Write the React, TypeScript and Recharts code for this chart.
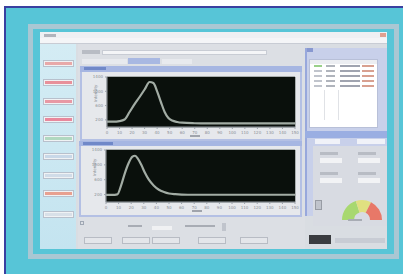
import React from "react";
import {
  LineChart,
  Line,
  XAxis,
  YAxis,
  CartesianGrid,
  PieChart,
  Pie,
  Cell,
} from "recharts";

// upper trace (time, intensity)
const topTime = [0, 5, 10, 14, 18, 22, 26, 30, 34, 37, 40, 43, 46, 49, 52, 56, 60, 70, 80, 100, 120, 150];
const topValue = [150, 150, 165, 210, 420, 640, 840, 1050, 1260, 1230, 1000, 700, 420, 250, 180, 140, 120, 105, 100, 100, 100, 100];

// lower trace
const bottomTime = [0, 5, 9, 12, 15, 18, 21, 23, 25, 28, 31, 34, 38, 42, 46, 50, 55, 60, 70, 90, 120, 150];
const bottomValue = [190, 190, 205, 450, 780, 1050, 1220, 1245, 1180, 1000, 780, 600, 440, 330, 270, 230, 210, 200, 195, 195, 195, 195];

const xTicks = [0, 10, 20, 30, 40, 50, 60, 70, 80, 90, 100, 110, 120, 130, 140, 150];
const yTicks = [0, 200, 400, 600, 800, 1000, 1200, 1400];

// gauge segments
const gaugeParts = [
  { name: "low", value: 40, color: "#a8d870" },
  { name: "mid", value: 25, color: "#e0e080" },
  { name: "high", value: 35, color: "#e87868" },
];

const topData = topTime.map((t, i) => ({ t, v: topValue[i] }));
const bottomData = bottomTime.map((t, i) => ({ t, v: bottomValue[i] }));

const box = (
  left: number,
  top: number,
  width: number,
  height: number,
  style: React.CSSProperties = {}
) => (
  <div
    style={{
      position: "absolute",
      left,
      top,
      width,
      height,
      boxSizing: "border-box",
      ...style,
    }}
  />
);

function Trace({ data, width, height }: { data: any[]; width: number; height: number }) {
  return (
    <LineChart
      width={width}
      height={height}
      data={data}
      margin={{ top: 5, right: 7, bottom: 2, left: 7 }}
    >
      <rect x={27} y={5} width={width - 34} height={height - 16} fill="#0a100c" />
      <CartesianGrid stroke="#1c261f" strokeWidth={0.6} />
      <XAxis
        dataKey="t"
        type="number"
        domain={[0, 150]}
        ticks={xTicks}
        height={9}
        tick={{ fontSize: 4, fill: "#8a8f96" }}
        tickSize={2}
        stroke="#9aa0a8"
      />
      <YAxis
        type="number"
        domain={[0, 1400]}
        ticks={yTicks}
        width={20}
        tick={{ fontSize: 4, fill: "#8a8f96" }}
        tickSize={2}
        stroke="#9aa0a8"
        label={{ value: "Intensity", angle: -90, position: "insideLeft", fontSize: 4, fill: "#8a8f96", dx: 4 }}
      />
      <Line
        dataKey="v"
        type="monotone"
        stroke="#a2aca4"
        strokeWidth={2.2}
        dot={false}
        isAnimationActive={false}
      />
    </LineChart>
  );
}

const sideButtons = [
  { y: 60, c: "#e8a8a8" },
  { y: 79, c: "#e8909a" },
  { y: 98, c: "#e898a4" },
  { y: 116, c: "#e8889c" },
  { y: 135, c: "#b0d8c0" },
  { y: 153, c: "#c8d8e8" },
  { y: 172, c: "#d0dce8" },
  { y: 190, c: "#e8a090" },
  { y: 211, c: "#d8e0e8" },
];

export default function App() {
  return (
    <div
      style={{
        position: "absolute",
        left: 0,
        top: 0,
        width: 403,
        height: 274,
        background: "#ffffff",
        overflow: "hidden",
        fontFamily: "DejaVu Sans, sans-serif",
      }}
    >
      {/* teal frame */}
      {box(4, 6, 420, 280, { background: "#57c5d7", borderTop: "2px solid #3a40a0", borderLeft: "2px solid #3a40a0" })}
      {box(28, 24, 371, 235, { border: "5px solid #a9c7d3" })}
      {/* screenshot */}
      {box(40, 32, 347, 217, { background: "#d9dde2" })}
      {box(40, 32, 347, 6, { background: "#eef0f3" })}
      {box(40, 38, 347, 6, { background: "#f4f5f7", borderBottom: "1px solid #c8ccd4" })}
      {box(44, 34, 12, 3, { background: "#b0b4bc" })}
      {box(380, 33, 6, 4, { background: "#e0a090" })}

      {/* sidebar */}
      {box(40, 44, 36, 205, { background: "linear-gradient(#d4ecf4, #c4e4f0)" })}
      {sideButtons.map((b) => (
        <div key={b.y}>
          {box(43, b.y, 31, 7, { background: "#f0f2f4", border: "1px solid #b8c0cc" })}
          {box(45, b.y + 2, 27, 3, { background: b.c })}
        </div>
      ))}

      {/* main area */}
      {box(78, 44, 227, 205, { background: "#dcdfe4" })}
      {box(82, 50, 18, 4, { background: "#b8bcc4" })}
      {box(102, 50, 165, 5, { background: "#f4f5f7", border: "1px solid #c8ccd4" })}
      {box(82, 59, 45, 5, { background: "#e8eaee" })}
      {box(128, 58, 32, 6, { background: "#a8b8e2" })}
      {box(162, 59, 30, 5, { background: "#e8eaee" })}

      {/* chart panel 1 */}
      {box(80, 66, 222, 75, { background: "#e6e8ec", border: "2px solid #b4c0e4" })}
      {box(80, 66, 222, 6, { background: "#a6b6e2" })}
      {box(84, 67, 22, 3, { background: "#7088c8" })}
      <div style={{ position: "absolute", left: 80, top: 72 }}>
        <Trace data={topData} width={222} height={66} />
      </div>
      {box(190, 135, 10, 2, { background: "#a0a4ac" })}

      {/* chart panel 2 */}
      {box(79, 141, 223, 76, { background: "#e6e8ec", border: "2px solid #b4c0e4" })}
      {box(79, 141, 223, 5, { background: "#a6b6e2" })}
      {box(83, 142, 30, 3, { background: "#7088c8" })}
      <div style={{ position: "absolute", left: 79, top: 145 }}>
        <Trace data={bottomData} width={223} height={68} />
      </div>
      {box(192, 210, 10, 2, { background: "#a0a4ac" })}

      {/* bottom controls */}
      {box(80, 221, 4, 4, { border: "1px solid #a0a8b4" })}
      {box(128, 225, 14, 2, { background: "#a8acb4" })}
      {box(152, 226, 20, 4, { background: "#f0f1f3" })}
      {box(185, 225, 30, 2, { background: "#a8acb4" })}
      {box(222, 223, 4, 8, { background: "#c0c4cc" })}
      {[84, 122, 152, 198, 240].map((x) => (
        <div key={x}>{box(x, 237, 28, 7, { background: "#e4e6ea", border: "1px solid #b8bcc4" })}</div>
      ))}
      {box(309, 235, 22, 9, { background: "#3a3c40" })}
      {box(335, 238, 50, 5, { background: "#c8ccd4" })}

      {/* right panel */}
      {box(305, 48, 82, 168, { background: "#c8d0ea", borderLeft: "2px solid #98a8dc" })}
      {box(307, 48, 6, 4, { background: "#8898d0" })}
      {box(309, 59, 69, 69, { background: "#ffffff", border: "1px solid #b8c0d8" })}
      {box(310, 60, 67, 4, { background: "#eceef2" })}
      {[65, 70, 75, 80, 85].map((y) => (
        <div key={y}>
          {box(314, y, 8, 2, { background: y === 65 ? "#9ad08a" : "#c0c4cc" })}
          {box(326, y, 9, 2, { background: "#b0b4bc" })}
          {box(340, y, 20, 2, { background: "#a0a4b0" })}
          {box(362, y, 12, 2, { background: "#d8a090" })}
        </div>
      ))}
      {box(324, 90, 1, 30, { background: "#e0e2e6" })}
      {box(338, 90, 1, 30, { background: "#e0e2e6" })}
      {box(305, 131, 82, 7, { background: "#9aaee2" })}
      {box(315, 139, 25, 5, { background: "#f0f2f8" })}
      {box(357, 139, 28, 5, { background: "#f0f2f8" })}
      {box(313, 146, 74, 80, { background: "#d8dbe2" })}
      {[[320, 152], [358, 152], [320, 172], [358, 172]].map(([x, y]) => (
        <div key={`${x}-${y}`}>
          {box(x, y, 18, 3, { background: "#b8bcc4" })}
          {box(x, y + 6, 22, 5, { background: "#f2f3f5" })}
        </div>
      ))}
      {box(315, 200, 7, 10, { background: "#c0c4cc", border: "1px solid #989ca4" })}
      <div style={{ position: "absolute", left: 332, top: 189 }}>
        <PieChart width={50} height={32}>
          <Pie
            data={gaugeParts}
            dataKey="value"
            cx={25}
            cy={26}
            startAngle={180}
            endAngle={0}
            innerRadius={8}
            outerRadius={20}
            stroke="none"
            isAnimationActive={false}
          >
            {gaugeParts.map((p) => (
              <Cell key={p.name} fill={p.color} />
            ))}
          </Pie>
        </PieChart>
      </div>
      {box(348, 219, 14, 2, { background: "#a8acb4" })}
    </div>
  );
}
